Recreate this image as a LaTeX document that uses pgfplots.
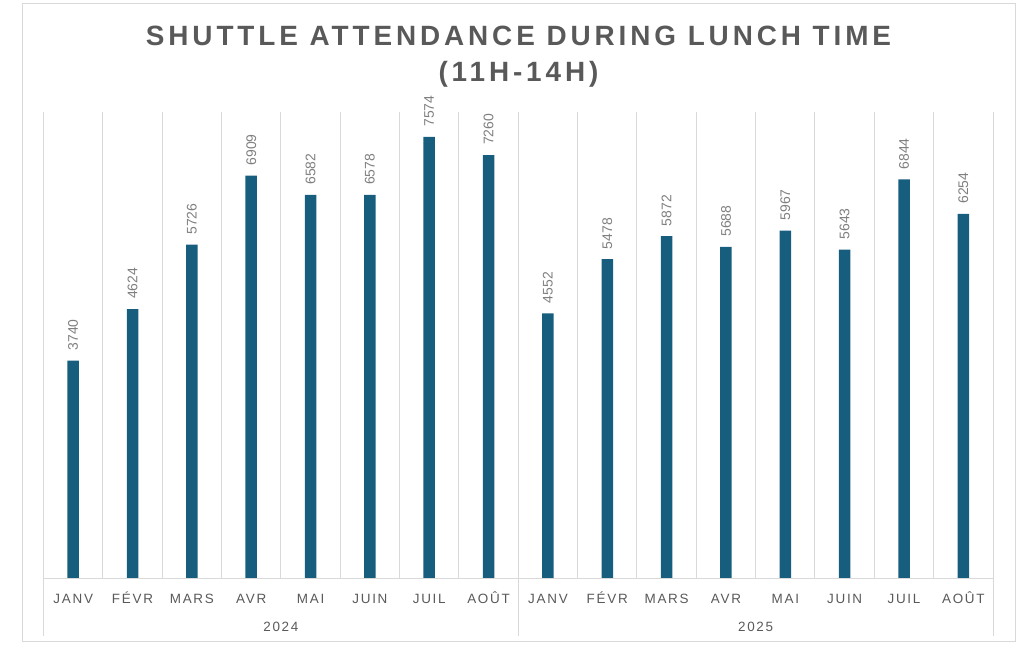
\documentclass[border=0pt]{standalone}
\usepackage{fontspec}
\setmainfont{Liberation Sans}
\newfontfamily\titlefont[LetterSpace=14]{Liberation Sans Bold}
\newfontfamily\labelfont[LetterSpace=13]{Liberation Sans}
\usepackage{pgfplots}
\pgfplotsset{compat=1.18}
\definecolor{barblue}{HTML}{175E7E}
\definecolor{gridgray}{HTML}{D9D9D9}
\definecolor{titlegray}{HTML}{595959}
\definecolor{tickgray}{HTML}{595959}
\definecolor{labelgray}{HTML}{7F7F7F}
\begin{document}
\begin{tikzpicture}[x=1bp,y=1bp]
\useasboundingbox (0,0) rectangle (1023,645);
\draw[gridgray, line width=1bp] (22,3) rectangle (1015,641);
\node[anchor=base, text=titlegray, inner sep=0pt, font=\titlefont\fontsize{28}{32}\selectfont] at (518.5,599.5) {SHUTTLE ATTENDANCE DURING LUNCH TIME};
\node[anchor=base, text=titlegray, inner sep=0pt, font=\titlefont\fontsize{28}{32}\selectfont] at (518.5,563) {(11H-14H)};
\begin{axis}[
  at={(43.5bp,66bp)}, anchor=south west,
  scale only axis, width=949.5bp, height=467bp,
  xmin=-0.5, xmax=15.5, ymin=0, ymax=8000,
  clip=false,
  axis line style={draw=none},
  ytick=\empty,
  xtick={0,...,15},
  xticklabels={JANV,FÉVR,MARS,AVR,MAI,JUIN,JUIL,AOÛT,JANV,FÉVR,MARS,AVR,MAI,JUIN,JUIL,AOÛT},
  major tick length=0pt,
  minor tick length=0pt,
  xticklabel style={anchor=base, yshift=-24.5bp, inner sep=0pt, font=\labelfont\fontsize{13.5}{15}\selectfont, text=tickgray},
  minor xtick={-0.5,0.5,...,15.5},
  xminorgrids,
  minor grid style={draw=gridgray, line width=1bp},
  ybar, bar width=11.5bp,
  nodes near coords={\pgfmathprintnumber[assume math mode=true, 1000 sep={}, fixed, precision=0]{\pgfplotspointmeta}},
  every node near coord/.append style={rotate=90, anchor=west, inner xsep=10bp, inner ysep=0pt, font=\fontsize{14}{16}\selectfont, text=labelgray},
]
\addplot[fill=barblue, draw=none] coordinates {
 (0,3740) (1,4624) (2,5726) (3,6909) (4,6582) (5,6578) (6,7574) (7,7260)
 (8,4552) (9,5478) (10,5872) (11,5688) (12,5967) (13,5643) (14,6844) (15,6254)
};
\draw[gridgray, line width=1bp] (axis cs:-0.5,0) -- (axis cs:15.5,0);
\draw[gridgray, line width=1bp] (axis cs:-0.5,0) -- ++(0pt,-57bp);
\draw[gridgray, line width=1bp] (axis cs:7.5,0) -- ++(0pt,-57bp);
\draw[gridgray, line width=1bp] (axis cs:15.5,0) -- ++(0pt,-57bp);
\node[anchor=base, inner sep=0pt, yshift=-53bp, font=\labelfont\fontsize{13.5}{15}\selectfont, text=tickgray] at (axis cs:3.5,0) {2024};
\node[anchor=base, inner sep=0pt, yshift=-53bp, font=\labelfont\fontsize{13.5}{15}\selectfont, text=tickgray] at (axis cs:11.5,0) {2025};
\end{axis}
\end{tikzpicture}
\end{document}
